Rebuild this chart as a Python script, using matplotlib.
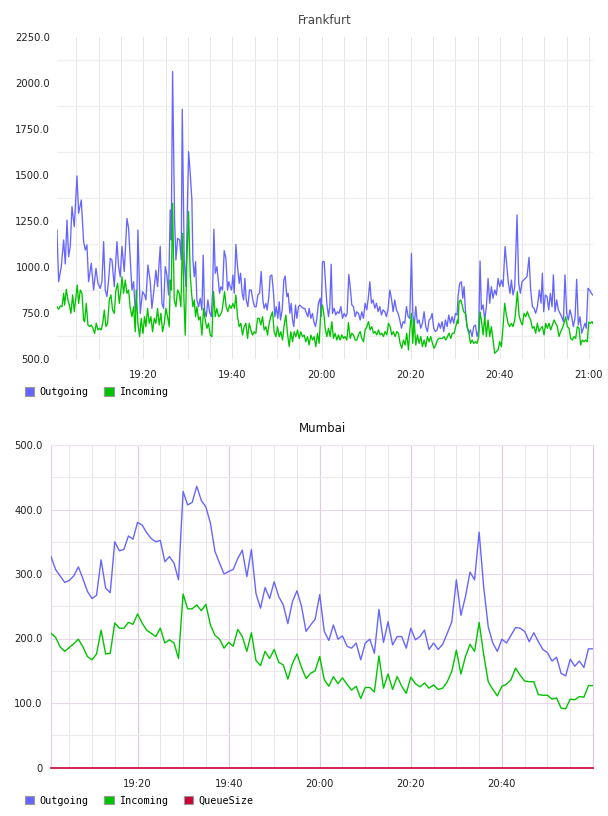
import matplotlib
matplotlib.use('Agg')
import matplotlib.pyplot as plt
from matplotlib.patches import Patch
from matplotlib.ticker import FuncFormatter
import numpy as np

# ---------------- Frankfurt data (minutes after 19:00) ----------------
fra_out_t = [
    0.64,1.02,1.61,2.14,2.51,2.89,3.26,3.63,4.01,4.53, 5.13,5.50,6.10,6.62,7.00,7.37,7.74,8.34,8.86,9.39,
    9.84,10.36,10.73,11.11,11.48,11.85,12.23,12.60,12.98,13.50, 14.10,14.47,14.84,15.22,15.74,16.34,16.71,17.46,17.83,18.21,
    18.58,18.80,19.33,19.85,20.30,20.60,21.05,21.57,21.94,22.32, 22.84,23.21,23.81,24.19,24.56,24.93,25.31,25.68,26.05,26.28,
    26.58,27.03,27.33,27.70,28.15,28.52,28.75,29.19,29.57,29.87, 30.17,
    30.54,30.91,31.14,31.44,31.74,32.03,32.41,32.78,33.16,33.45, 33.75,34.13,34.50,34.87,35.25,35.55,35.85,36.15,36.52,36.82,
    37.12,37.42,37.79,38.16,38.54,38.91,39.21,39.51,39.81,40.11, 40.41,40.78,41.15,41.53,41.83,42.20,42.50,42.80,43.10,43.47,
    43.84,44.22,44.59,44.97,45.34,45.71,46.09,46.46,46.83,47.13, 47.51,47.80,48.18,48.48,48.85,49.23,49.52,49.82,50.20,50.50,
    50.79,51.17,51.54,51.84,52.21,52.51,52.89,53.19,53.49,53.78, 54.16,54.46,54.83,55.13,55.50,55.88,56.25,56.62,56.92,57.22,
    57.60,57.97,58.27,58.64,58.94,59.31,59.69,59.91,60.21,60.59,
    60.81,61.18,61.56,61.86,62.16,62.45,62.83,63.20,63.58,63.95, 64.32,64.70,65.07,65.44,65.74,66.12,66.42,66.79,67.16,67.54,
    67.91,68.28,68.66,69.03,69.41,69.78,70.15,70.53,70.83,71.20, 71.57,71.95,72.32,72.69,73.07,73.44,73.81,74.19,74.56,74.94,
    75.31,75.68,76.06,76.43,76.80,77.18,77.55,77.93,78.30,78.67, 79.05,79.42,79.79,80.17,80.47,80.77,81.14,81.51,81.89,82.26,
    82.63,83.01,83.38,83.75,84.13,84.50,84.80,85.17,85.55,85.92, 86.30,86.67,87.04,87.42,87.79,88.16,88.54,88.91,89.29,89.66,
    90.03,90.41,
    90.63,91.00,91.38,91.68,91.98,92.27,92.65,93.02,93.40,93.77, 94.14,94.52,94.89,95.26,95.56,95.86,96.24,96.61,96.98,97.36,
    97.73,98.10,98.48,98.85,99.23,99.60,99.97,100.35,100.72,101.17, 101.54,101.92,102.29,102.59,102.96,103.34,103.86,104.23,104.61,104.98,
    105.35,105.73,106.10,106.55,106.92,107.30,107.67,108.04,108.42,108.87, 109.24,109.54,109.84,110.21,110.59,110.96,111.33,111.71,112.01,112.38,
    112.75,113.13,113.50,113.87,114.25,114.62,115.00,115.37,115.74,116.12, 116.49,116.86,117.24,117.61,117.99,118.36,118.73,119.11,119.40,119.78,
    120.15,120.53,120.83,
]
fra_out_v = [
    1201,920,1002,1147,1016,1255,1056,1112,1328,1219, 1495,1292,1364,1138,1092,1120,920,1020,875,993,
    911,884,920,1138,875,839,929,1047,1038,893, 1138,1002,947,1112,975,1264,1210,875,920,757,
    848,1201,748,866,848,821,1011,920,775,857, 982,893,1112,802,775,1002,956,848,1310,1147,
    2062,1255,1038,1156,1147,1038,1857,1038,893,1292, 1627,
    1509,1364,1038,947,1029,821,784,830,766,1065, 766,730,821,757,730,857,1205,966,1002,929,
    857,893,875,1089,1047,875,920,893,875,956, 857,1123,1002,911,966,857,821,938,821,784,
    875,875,821,784,784,848,857,975,821,775, 802,766,839,951,956,857,730,784,721,811,
    712,766,929,951,839,857,748,802,712,676, 793,721,784,793,784,775,775,748,730,775,
    721,748,703,676,721,802,830,730,1029,1029,
    948,803,730,785,1015,748,776,739,757,748, 785,721,748,730,748,960,893,794,785,730,
    757,748,712,757,721,803,767,839,920,803, 821,776,803,757,785,739,767,757,730,776,
    875,830,757,821,767,748,712,667,703,694, 785,730,721,1074,748,676,785,694,712,667,
    694,757,676,649,712,721,748,667,649,658, 694,667,703,649,712,676,739,694,730,694,
    748,739,
    839,911,920,830,893,767,676,640,658,622, 676,685,622,658,1033,767,794,712,785,938,
    803,893,830,875,848,938,893,929,893,1111, 1011,911,857,929,848,893,1283,911,857,920,
    929,938,948,1053,875,785,776,748,785,875, 803,966,757,848,839,767,857,785,957,757,
    821,767,748,730,703,957,748,712,767,730, 676,721,933,685,730,640,667,694,667,884,
    875,857,848,
]
fra_in_t = [
    0.64,1.02,1.39,1.76,2.14,2.36,2.74,3.11,3.41,3.78, 4.16,4.53,4.90,5.20,5.50,5.87,6.25,6.62,6.85,7.22,
    7.59,7.97,8.34,8.71,9.09,9.46,9.84,10.21,10.58,10.96, 11.26,11.63,12.00,12.38,12.75,13.12,13.50,13.87,14.25,14.62,
    14.99,15.22,15.59,15.96,16.34,16.71,17.09,17.46,17.83,18.21, 18.43,18.80,19.18,19.55,19.93,20.30,20.60,20.97,21.35,21.72,
    22.09,22.47,22.84,23.21,23.59,23.96,24.33,24.71,25.08,25.46, 25.83,26.05,26.28,26.58,26.95,27.33,27.70,28.07,28.45,28.82,
    29.12,29.42,29.79,30.17,
    30.54,30.84,31.14,31.44,31.74,32.03,32.41,32.78,33.16,33.53, 33.90,34.28,34.65,35.02,35.40,35.77,36.15,36.52,36.89,37.27,
    37.64,38.01,38.24,38.61,38.99,39.36,39.73,40.11,40.48,40.78, 41.15,41.53,41.90,42.27,42.65,43.02,43.40,43.77,44.14,44.52,
    44.89,45.26,45.64,46.01,46.38,46.76,47.13,47.51,47.88,48.25, 48.63,49.00,49.37,49.75,50.12,50.50,50.87,51.24,51.62,51.99,
    52.36,52.74,53.11,53.49,53.86,54.23,54.61,54.98,55.35,55.73, 56.10,56.47,56.85,57.22,57.60,57.97,58.34,58.72,59.09,59.46,
    59.84,60.21,60.59,
    60.81,61.18,61.56,61.93,62.30,62.68,63.05,63.43,63.80,64.17, 64.55,64.92,65.29,65.67,66.04,66.42,66.79,67.16,67.54,67.91,
    68.28,68.66,69.03,69.41,69.78,70.15,70.53,70.90,71.27,71.65, 72.02,72.39,72.77,73.14,73.52,73.89,74.26,74.64,75.01,75.38,
    75.76,76.13,76.51,76.88,77.25,77.63,78.00,78.37,78.75,79.12, 79.50,79.87,80.17,80.47,80.77,81.14,81.51,81.89,82.26,82.63,
    83.01,83.38,83.75,84.13,84.50,84.88,85.25,85.62,86.00,86.37, 86.74,87.12,87.49,87.87,88.24,88.61,88.99,89.36,89.73,90.11,
    90.48,
    90.63,90.85,91.23,91.53,91.90,92.27,92.65,93.02,93.40,93.77, 94.14,94.52,94.89,95.26,95.56,95.86,96.24,96.61,96.98,97.36,
    97.73,98.10,98.48,98.85,99.23,99.60,99.97,100.35,100.72,101.09, 101.47,101.84,102.21,102.59,102.96,103.34,103.71,103.93,104.31,104.68,
    105.06,105.43,105.80,106.18,106.55,106.92,107.30,107.67,108.04,108.42, 108.79,109.17,109.54,109.91,110.29,110.66,111.03,111.41,111.78,112.16,
    112.53,112.90,113.28,113.65,114.02,114.40,114.77,115.15,115.52,115.89, 116.27,116.64,117.01,117.39,117.76,118.13,118.51,118.88,119.26,119.63,
    119.93,120.30,120.68,120.83,
]
fra_in_v = [
    784,770,788,784,857,793,879,821,793,748, 848,757,839,902,802,875,857,712,703,802,
    685,676,685,667,639,694,658,667,658,703, 766,676,694,821,848,766,748,875,911,802,
    875,947,857,929,857,875,775,730,784,648, 875,694,621,721,639,730,676,775,694,730,
    648,721,694,775,685,748,648,694,775,730, 676,929,875,1346,821,784,875,857,784,1183,
    830,630,1038,1301,
    956,857,784,821,730,784,712,730,630,775, 712,667,694,630,621,866,730,775,730,739,
    757,821,866,784,757,793,775,802,775,848, 730,676,694,630,676,694,612,694,658,630,
    648,639,721,721,685,730,658,676,630,694, 730,757,648,621,676,621,648,603,685,739,
    639,567,648,594,648,621,658,612,648,621, 630,594,621,576,630,603,621,567,639,585,
    757,793,730,
    667,622,667,622,703,612,640,603,631,603, 631,612,622,603,698,612,640,631,603,603,
    631,649,612,594,658,676,703,658,676,640, 649,631,658,631,640,622,649,631,694,676,
    631,649,622,649,640,585,558,603,576,640, 549,676,748,585,712,576,631,585,622,567,
    603,567,622,594,622,585,558,576,603,612, 612,612,622,603,622,640,612,640,640,676,
    712,
    694,812,821,794,757,748,676,649,585,603, 585,594,585,622,757,712,631,730,622,712,
    622,676,603,531,540,549,594,567,676,803, 739,694,676,694,676,712,803,866,739,703,
    685,748,730,757,730,712,667,676,640,694, 649,667,676,631,694,667,694,658,685,712,
    694,676,622,649,667,694,730,676,667,612, 603,622,612,676,667,576,603,594,603,594,
    700,694,703,694,
]

# ---------------- Mumbai data (one sample per minute from 19:01) ----------------
mum_t = list(range(1, 121))
mum_out = [
    327,307,297,287,290,297,311,293,273,262, 267,322,278,271,350,336,338,359,354,380,
    376,364,355,350,352,319,327,317,291,428, 407,411,436,414,404,379,335,317,300,304,
    307,324,337,296,338,270,247,279,262,288, 265,252,223,257,274,250,211,221,230,268,
    211,197,221,199,204,188,185,193,167,193, 199,177,245,194,226,190,203,203,185,216,
    198,203,213,183,193,183,191,208,226,291, 236,265,303,291,365,280,218,193,180,199,
    193,205,217,216,211,195,209,195,183,178, 165,171,146,142,168,157,165,155,184,184,
]
mum_in = [
    208,202,187,180,186,192,199,187,172,167, 176,213,176,177,224,216,216,225,222,238,
    224,213,208,203,216,193,198,193,169,269, 246,246,252,243,253,221,205,199,185,194,
    188,214,203,180,209,166,158,180,169,183, 163,159,137,161,176,155,138,146,150,172,
    136,126,141,130,139,129,120,126,107,124, 124,117,173,123,145,121,141,126,115,140,
    130,125,131,123,128,121,123,133,149,182, 145,172,191,180,225,175,133,121,111,126,
    129,136,154,143,134,133,133,113,112,112, 106,108,92,91,106,105,110,109,127,127,
]
mum_queue = [0] * 120

series_names = ["Outgoing", "Incoming", "QueueSize"]
colors = {"Outgoing": "#6666ff", "Incoming": "#00c400", "QueueSize": "#cc0033"}
titles = ["Frankfurt", "Mumbai"]


def hhmm(m, pos=None):
    m = int(round(m))
    return "%d:%02d" % (19 + m // 60, m % 60)


W, H = 608, 816
fig = plt.figure(figsize=(W / 100, H / 100), dpi=100)
fig.patch.set_facecolor("white")
tick_font = dict(family="DejaVu Sans", size=7.2)

# ---------------- top chart ----------------
ax1 = fig.add_axes([57 / W, 1 - 359 / H, 536 / W, 322 / H])
ax1.set_xlim(0.65, 120.9)
ax1.set_ylim(500, 2250)
for s in ax1.spines.values():
    s.set_visible(False)
ax1.set_yticks(np.arange(500, 2251, 250))
ax1.set_yticks(np.arange(625, 2250, 250), minor=True)
ax1.yaxis.set_major_formatter(FuncFormatter(lambda v, p: "%.1f" % v))
ax1.set_xticks(np.arange(20, 121, 20))
ax1.set_xticks(np.arange(5, 121, 5), minor=True)
ax1.xaxis.set_major_formatter(FuncFormatter(hhmm))
ax1.grid(which="minor", axis="y", color="#efefef", lw=0.9)
ax1.grid(which="both", axis="x", color="#e6e6e6", lw=0.7)
ax1.tick_params(which="both", length=0)
ax1.tick_params(axis="y", pad=5)
ax1.tick_params(axis="x", pad=8)
for lab in ax1.get_xticklabels() + ax1.get_yticklabels():
    lab.set_fontfamily(tick_font["family"])
    lab.set_fontsize(tick_font["size"])
    lab.set_color("#222222")
ax1.plot(fra_out_t, fra_out_v, color=colors["Outgoing"], lw=0.95, zorder=3)
ax1.plot(fra_in_t, fra_in_v, color=colors["Incoming"], lw=0.95, zorder=4)
ax1.set_title(titles[0], fontsize=8.5, color="#444444", pad=9, family="DejaVu Sans")
h1 = [Patch(facecolor=colors[n], edgecolor="#999999", lw=0.8) for n in series_names[:2]]
ax1.legend(h1, series_names[:2], loc="center left", bbox_to_anchor=(-32 / 536, -33 / 322),
           ncol=2, frameon=False, borderpad=0, borderaxespad=0, handlelength=0.9,
           handleheight=0.9, handletextpad=0.5, columnspacing=1.6,
           prop=dict(family="DejaVu Sans Mono", size=7.3))

# ---------------- bottom chart ----------------
ax2 = fig.add_axes([51 / W, 1 - 767.5 / H, 542 / W, 322.5 / H])
ax2.set_xlim(1, 120)
ax2.set_ylim(0, 500)
ax2.spines["top"].set_color("#f0e4f0")
ax2.spines["right"].set_color("#e6c8e6")
ax2.spines["left"].set_color("#e6d2e6")
ax2.spines["bottom"].set_visible(False)
for s in ax2.spines.values():
    s.set_linewidth(0.9)
ax2.set_yticks(np.arange(0, 501, 100))
ax2.set_yticks(np.arange(50, 500, 100), minor=True)
ax2.yaxis.set_major_formatter(FuncFormatter(lambda v, p: "0" if v == 0 else "%.1f" % v))
ax2.set_xticks(np.arange(20, 101, 20))
ax2.set_xticks([m for m in range(5, 120, 5) if m % 20], minor=True)
ax2.xaxis.set_major_formatter(FuncFormatter(hhmm))
ax2.grid(which="major", axis="y", color="#ead6ea", lw=0.8)
ax2.grid(which="minor", axis="y", color="#eaeaea", lw=0.8)
ax2.grid(which="major", axis="x", color="#e0cce0", lw=0.9)
ax2.grid(which="minor", axis="x", color="#e8e4ea", lw=0.7)
ax2.tick_params(which="both", length=0)
ax2.tick_params(axis="y", pad=6)
ax2.tick_params(axis="x", pad=8)
for lab in ax2.get_xticklabels() + ax2.get_yticklabels():
    lab.set_fontfamily(tick_font["family"])
    lab.set_fontsize(tick_font["size"])
    lab.set_color("#222222")
ax2.plot(mum_t, mum_out, color=colors["Outgoing"], lw=1.0, zorder=3)
ax2.plot(mum_t, mum_in, color=colors["Incoming"], lw=1.0, zorder=4)
ax2.plot(mum_t, mum_queue, color=colors["QueueSize"], lw=1.2, zorder=5, clip_on=False)
ax2.set_title(titles[1], fontsize=8.5, color="#111111", pad=9, family="DejaVu Sans")
h2 = [Patch(facecolor=colors[n], edgecolor="#999999", lw=0.8) for n in series_names]
ax2.legend(h2, series_names, loc="center left", bbox_to_anchor=(-26 / 542, -33 / 322.5),
           ncol=3, frameon=False, borderpad=0, borderaxespad=0, handlelength=0.9,
           handleheight=0.9, handletextpad=0.5, columnspacing=1.6,
           prop=dict(family="DejaVu Sans Mono", size=7.3))

fig.savefig("out.png", dpi=100)
